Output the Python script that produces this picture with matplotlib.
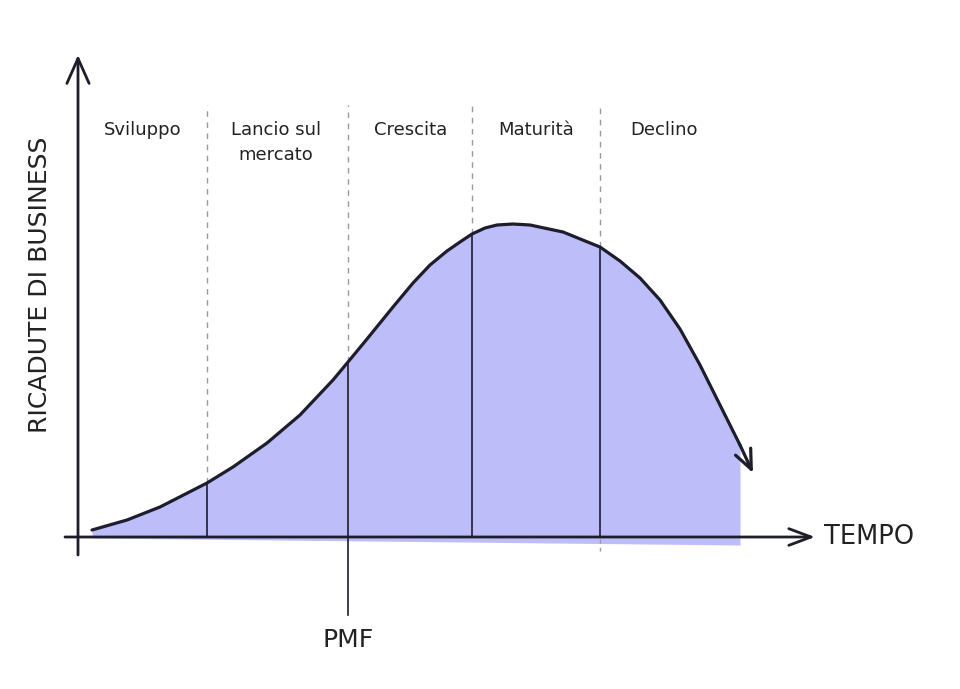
import matplotlib.pyplot as plt
import numpy as np

# curve of business returns over time
tempo = [14, 49, 82, 129, 155, 189, 222, 255, 270, 289, 315, 335, 352, 369,
         382, 394, 407, 419, 435, 452, 485, 522, 542, 562, 582, 602, 622,
         642, 662, 675]
ricadute = [7, 17, 30, 54, 70, 94, 122, 157, 175, 198, 230, 254, 272, 286,
            295, 303, 309, 312, 313, 312, 305, 290, 276, 259, 237, 208, 172,
            132, 92, 64]

# phase boundaries and labels
confini = [129, 270, 394, 522]
fasi = ['Sviluppo', 'Lancio sul\nmercato', 'Crescita', 'Maturità', 'Declino']
centri_fasi = [65, 198, 333, 458, 586]

blu = '#bdbdf9'
nero = '#1d1d2b'

fig = plt.figure(figsize=(9.6, 6.89), dpi=100)
ax = fig.add_axes([0, 0, 1, 1])
ax.set_xlim(-78, 882)
ax.set_ylim(-152, 537)
ax.axis('off')

t = np.array(tempo)
v = np.array(ricadute)

# filled area, stops a bit before the arrow tip
fine = 662
m = t <= fine
tf = np.append(t[m], fine)
vf = np.append(v[m], np.interp(fine, t, v) - 17)
fondo = np.interp(tf, [tf[0], fine], [-1, -8])
ax.fill_between(tf, fondo, vf, color=blu, lw=0, zorder=1)

# curve with arrow head at the end
ax.plot(t[:-1], v[:-1], color=nero, lw=2.3, solid_capstyle='round',
        solid_joinstyle='round', zorder=4)
ax.annotate('', xy=(t[-1], v[-1]), xytext=(t[-2], v[-2]),
            arrowprops=dict(arrowstyle='->,head_length=1.4,head_width=0.6',
                            color=nero, lw=2.3, shrinkA=0, shrinkB=0), zorder=4)

# axes with arrows
ax.annotate('', xy=(0, 482), xytext=(0, -18),
            arrowprops=dict(arrowstyle='->,head_length=1.8,head_width=0.8',
                            color=nero, lw=2, shrinkA=0, shrinkB=0), zorder=5)
ax.annotate('', xy=(737, 0), xytext=(-13, 0),
            arrowprops=dict(arrowstyle='->,head_length=1.6,head_width=0.6',
                            color=nero, lw=2, shrinkA=0, shrinkB=0), zorder=5)

# phase boundaries: dashed above the curve, solid below
for c in confini:
    yc = np.interp(c, t, v)
    ax.plot([c, c], [yc, 432], color='#9a9a9a', lw=1, ls=(0, (4, 4)), zorder=2)
    basso = -78 if c == 270 else 0
    ax.plot([c, c], [basso, yc], color=nero, lw=1.2, zorder=3)
ax.plot([522, 522], [-2, -14], color='#9a9a9a', lw=1, ls=(0, (3, 3)), zorder=2)

for x, testo in zip(centri_fasi, fasi):
    ax.text(x, 416, testo, ha='center', va='top', fontsize=13,
            color='#222222', linespacing=1.5)

ax.text(-38, 252, 'RICADUTE DI BUSINESS', rotation=90, ha='center',
        va='center', fontsize=18, color='#222222')
ax.text(746, 0, 'TEMPO', ha='left', va='center', fontsize=18.5, color='#222222')
ax.text(270, -103, 'PMF', ha='center', va='center', fontsize=18, color='#222222')

fig.savefig('out.png', dpi=100)
